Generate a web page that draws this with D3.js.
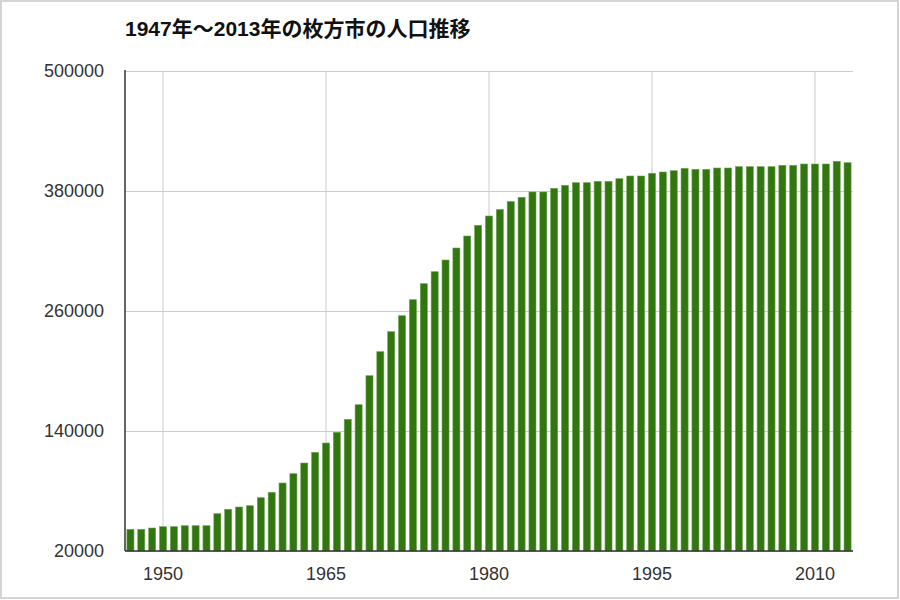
<!DOCTYPE html>
<html>
<head>
<meta charset="utf-8">
<script src="https://cdn.jsdelivr.net/npm/d3@7/dist/d3.min.js"></script>
<style>
  html, body { margin: 0; padding: 0; background: #fff; }
  svg { display: block; }
</style>
</head>
<body>
<svg id="chart" width="900" height="600"></svg>
<script>
const title = "1947年〜2013年の枚方市の人口推移";
const years = [1947,1948,1949,1950,1951,1952,1953,1954,1955,1956,1957,1958,1959,1960,
  1961,1962,1963,1964,1965,1966,1967,1968,1969,1970,1971,1972,1973,1974,1975,1976,
  1977,1978,1979,1980,1981,1982,1983,1984,1985,1986,1987,1988,1989,1990,1991,1992,
  1993,1994,1995,1996,1997,1998,1999,2000,2001,2002,2003,2004,2005,2006,2007,2008,
  2009,2010,2011,2012,2013];
const population = [41700,41700,43000,44300,44300,45300,45300,45300,57300,61700,64000,65300,73300,78700,
  88000,97300,108000,118700,128000,138700,151700,166300,195300,219300,239300,255300,271300,287300,299300,311000,
  323000,335000,345700,355000,361500,369500,373700,379000,379000,382700,385700,388300,388300,389700,389700,392300,
  395000,395000,397700,399000,400300,402700,401700,401700,403000,403000,404300,404300,404300,404300,405700,405700,
  407000,407000,407000,409700,408300];
const yTicks = [20000,140000,260000,380000,500000];
const xTicks = [1950,1965,1980,1995,2010];

(function () {
const svg = d3.select("#chart");
const mLeft = 125, mRight = 853, mTop = 71, mBottom = 551;
const fontFamily = "'Liberation Sans', Arial, 'Noto Sans CJK JP', sans-serif";

// frame
svg.append("rect").attr("x",1).attr("y",1).attr("width",897).attr("height",597)
  .attr("fill","#fff").attr("stroke","#d4d4d4").attr("stroke-width",2);

const x = d3.scaleBand().domain(years).range([mLeft, mRight]).paddingInner(0.35).paddingOuter(0.175);
const y = d3.scaleLinear().domain([20000, 500000]).range([mBottom, mTop]);

// horizontal gridlines + y labels
const yAxis = svg.append("g").attr("transform",`translate(${mLeft},0)`)
  .call(d3.axisLeft(y).tickValues(yTicks).tickSize(-(mRight-mLeft)).tickPadding(21).tickFormat(d3.format("d")));
yAxis.select(".domain").remove();
yAxis.selectAll(".tick line").attr("stroke","#cccccc").attr("stroke-width",1);
yAxis.selectAll(".tick text").attr("fill","#333").style("font-family",fontFamily).style("font-size","18px");

// vertical gridlines + x labels
const xAxis = svg.append("g").attr("transform",`translate(0,${mBottom})`)
  .call(d3.axisBottom(x).tickValues(xTicks).tickSize(-(mBottom-mTop)).tickPadding(16));
xAxis.select(".domain").remove();
xAxis.selectAll(".tick line").attr("stroke","#cccccc").attr("stroke-width",1);
xAxis.selectAll(".tick text").attr("fill","#333").style("font-family",fontFamily).style("font-size","18px");

// bars
svg.append("g").selectAll("rect").data(years).join("rect")
  .attr("x", d => x(d))
  .attr("width", x.bandwidth())
  .attr("y", (d,i) => y(population[i]))
  .attr("height", (d,i) => y(20000) - y(population[i]))
  .attr("fill", "#32760f")
  .attr("stroke", "#6fa552")
  .attr("stroke-width", 0.6);

// axis lines
svg.append("line").attr("x1",mLeft).attr("x2",mLeft).attr("y1",mTop-1).attr("y2",mBottom)
  .attr("stroke","#333").attr("stroke-width",1.5);
svg.append("line").attr("x1",mLeft).attr("x2",mRight).attr("y1",mBottom).attr("y2",mBottom)
  .attr("stroke","#333").attr("stroke-width",1.5);

// title
svg.append("text").attr("x",mLeft).attr("y",36)
  .style("font-family",fontFamily)
  .style("font-weight","bold").style("font-size","21px").attr("fill","#111")
  .text(title);
})();
</script>
</body>
</html>
